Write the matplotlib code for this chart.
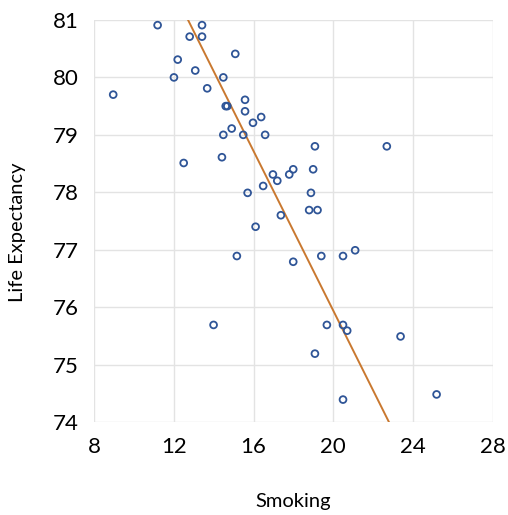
import numpy as np
import matplotlib
matplotlib.use("Agg")
import matplotlib.pyplot as plt

plt.rcParams["font.family"] = ["Lato", "DejaVu Sans"]

smoking = [11.18, 13.41, 12.79, 13.41, 15.08, 12.19, 13.07, 12.0, 14.48, 8.95,
           13.67, 15.57, 14.60, 14.68, 15.57, 16.38, 15.97, 14.90, 14.48, 15.48,
           16.58, 12.49, 14.41, 16.97, 17.19, 17.79, 17.99, 16.48, 15.70, 17.37,
           19.08, 22.69, 18.99, 18.88, 18.79, 19.21, 16.10, 15.16, 17.99, 13.99,
           19.40, 20.49, 21.10, 19.68, 20.49, 20.70, 23.38, 19.08, 25.19, 20.49]
life_exp = [80.91, 80.91, 80.71, 80.71, 80.41, 80.31, 80.12, 80.0, 80.0, 79.70,
            79.81, 79.61, 79.50, 79.50, 79.41, 79.31, 79.21, 79.11, 79.0, 79.0,
            79.0, 78.51, 78.61, 78.31, 78.20, 78.31, 78.40, 78.11, 77.99, 77.60,
            78.80, 78.80, 78.40, 77.99, 77.69, 77.69, 77.40, 76.89, 76.79, 75.69,
            76.89, 76.89, 76.99, 75.69, 75.69, 75.59, 75.49, 75.19, 74.48, 74.39]

# trendline
trend_slope = -0.694
trend_intercept = 89.82

x_ticks = [8, 12, 16, 20, 24, 28]
y_ticks = [74, 75, 76, 77, 78, 79, 80, 81]

fig = plt.figure(figsize=(5.08, 5.15), dpi=100)
ax = fig.add_axes([0.1856, 0.1806, 0.784, 0.7806])

ax.scatter(smoking, life_exp, s=24, facecolors="none", edgecolors="#2F5597",
           linewidths=1.3, zorder=3)

xs = np.array([min(smoking), max(smoking)])
ax.plot(xs, trend_slope * xs + trend_intercept, color="#C9782F", lw=1.4, zorder=2)

ax.set_xlim(8, 28)
ax.set_ylim(74, 81)
ax.set_xticks(x_ticks)
ax.set_yticks(y_ticks)
ax.tick_params(length=0, labelsize=16, pad=11)
for s in ax.spines.values():
    s.set_visible(False)
ax.grid(True, color="#E3E3E3", lw=1)
ax.set_axisbelow(True)

fig.text(0.5778, 1 - 502 / 515, "Smoking", ha="center", va="center", fontsize=14.5)
fig.text(18 / 508, 1 - 232 / 515, "Life Expectancy", ha="center", va="center",
         rotation=90, fontsize=14.5)

fig.savefig("out.png", dpi=100)
